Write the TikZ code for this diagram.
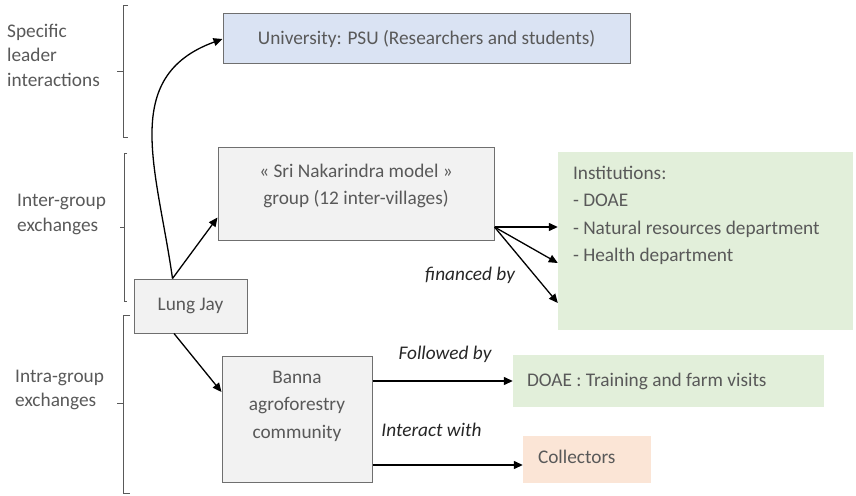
\documentclass[tikz,border=0pt]{standalone}
\usepackage{fontspec}
\setmainfont{Carlito}
\usepackage{xcolor}
\usepackage{tikz}
\usetikzlibrary{arrows.meta,calc}
\definecolor{txtgrey}{HTML}{595959}
\definecolor{boxline}{HTML}{6F6F6F}
\definecolor{greyfill}{HTML}{F2F2F2}
\definecolor{univfill}{HTML}{DAE3F3}
\definecolor{greenfill}{HTML}{E2EFDA}
\definecolor{orangefill}{HTML}{FBE5D6}

\begin{document}
\begin{tikzpicture}[x=1pt,y=-1pt,
  every node/.style={font=\fontsize{19.3}{27.5}\selectfont, text=txtgrey},
  side/.style={align=left, anchor=west, inner sep=0pt, font=\fontsize{19.3}{24.5}\selectfont},
  greybox/.style={draw=boxline, fill=greyfill, line width=1pt},
  tag/.style={font=\fontsize{19.3}{24}\selectfont\itshape, text=black!85},
  brace/.style={draw=txtgrey, line width=0.9pt},
  link/.style={->, line width=1.3pt},
  >={Triangle[length=9pt,width=8pt]}]
\useasboundingbox (0,0) rectangle (856,495);
% level labels and brackets
\node[side] (specific) at (7,55) {Specific\\leader\\interactions};
\node[side] (inter) at (17,214.5) {Inter-group\\exchanges};
\node[side] (intra) at (15,390) {Intra-group\\exchanges};
\draw[brace] (128,5) -- (123,5) -- (123,137) -- (128,137) (123,71) -- (117,71);
\draw[brace] (127,153) -- (124,153) -- (124,301) -- (127,301) (124,227) -- (120,227);
\draw[brace] (130,315) -- (123,315) -- (123,493) -- (130,493) (123,403) -- (117,403);
% boxes
\node[draw=boxline, fill=univfill, line width=1pt, minimum width=407pt, minimum height=50pt] (univ) at (426.5,39) {University: PSU (Researchers and students)};
\node[greybox, minimum width=276pt, minimum height=93pt,
  label={[align=center, anchor=north, inner sep=0pt, yshift=-17pt]north:« Sri Nakarindra model »\\group (12 inter-villages)}] (sri) at (356,193.5) {};
\node[greybox, minimum width=113pt, minimum height=54pt] (lung) at (190.5,306) {Lung Jay};
\node[greybox, minimum width=150pt, minimum height=126pt,
  label={[align=center, anchor=north, inner sep=0pt, yshift=-15pt]north:Banna\\agroforestry\\community}] (banna) at (297,419) {};
\node[fill=greenfill, minimum width=295pt, minimum height=178pt,
  label={[align=left, anchor=north west, inner sep=0pt, xshift=15pt, yshift=-14pt]north west:Institutions:\\- DOAE\\- Natural resources department\\- Health department}] (inst) at (705.5,241) {};
\node[fill=greenfill, minimum width=311pt, minimum height=52pt,
  label={[anchor=west, inner sep=0pt, xshift=14pt]west:DOAE : Training and farm visits}] (doae) at (668.5,381) {};
\node[fill=orangefill, minimum width=128pt, minimum height=47pt,
  label={[anchor=west, inner sep=0pt, xshift=15pt, yshift=3pt]west:Collectors}] (coll) at (587,459.5) {};
% arrow labels
\node[tag] (fin) at (470,275) {financed by};
\node[tag] (fol) at (445,354) {Followed by};
\node[tag] (interact) at (431.5,430) {Interact with};
% arrows
\draw[link] ([xshift=-18pt]lung.north) to[out=98,in=200,looseness=1.15] (univ.west);
\draw[link] ([xshift=-18pt]lung.north) -- ([yshift=-24pt]sri.west);
\draw[link] ([yshift=-33.5pt]sri.east) -- ([yshift=14pt]inst.west);
\draw[link] ([yshift=-33.5pt]sri.east) -- ([yshift=-22pt]inst.west);
\draw[link] ([yshift=-33.5pt]sri.east) -- ([yshift=-62pt]inst.west);
\draw[link] ([xshift=-16.5pt]lung.south) -- ([yshift=27pt]banna.west);
\draw[link] (banna.east |- doae.west) -- (doae.west);
\draw[link] ([yshift=-46pt]banna.east) -- ([yshift=-46pt]banna.east -| coll.west);
\end{tikzpicture}
\end{document}
